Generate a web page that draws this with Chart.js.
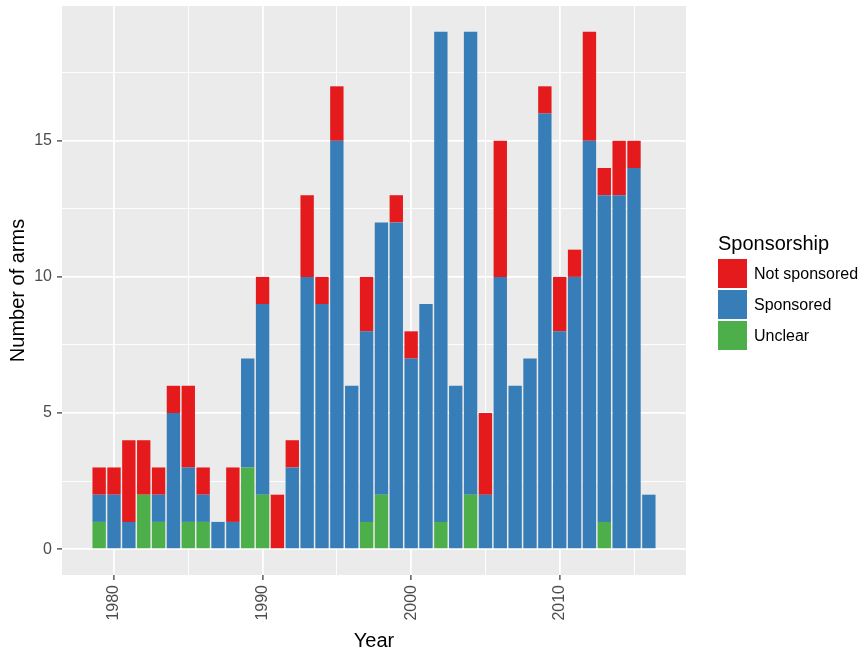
<!DOCTYPE html>
<html>
<head>
<meta charset="utf-8">
<script src="https://cdn.jsdelivr.net/npm/chart.js@4/dist/chart.umd.min.js"></script>
<style>
  body { margin: 0; background: #fff; font-family: "Liberation Sans", Arial, sans-serif; }
  #wrap { position: relative; width: 867px; height: 657px; }
  #legend { position: absolute; left: 718px; top: 231px; color: #000; }
  .lg-title { font-size: 20px; line-height: 24px; margin-bottom: 3px; }
  .lg-item { display: flex; align-items: center; height: 31px; }
  .lg-key { width: 29px; height: 29px; margin-right: 7px; }
  .lg-label { font-size: 16px; }
</style>
</head>
<body>
<div id="wrap">
  <canvas id="arms-chart" width="867" height="657"></canvas>
  <div id="legend"></div>
</div>
<script>
const years = [1979, 1980, 1981, 1982, 1983, 1984, 1985, 1986, 1987, 1988,
  1989, 1990, 1991, 1992, 1993, 1994, 1995, 1996, 1997, 1998,
  1999, 2000, 2001, 2002, 2003, 2004, 2005, 2006, 2007, 2008,
  2009, 2010, 2011, 2012, 2013, 2014, 2015, 2016];

const unclear = [1, 0, 0, 2, 1, 0, 1, 1, 0, 0,
  3, 2, 0, 0, 0, 0, 0, 0, 1, 2,
  0, 0, 0, 1, 0, 2, 0, 0, 0, 0,
  0, 0, 0, 0, 1, 0, 0, 0];

const sponsored = [1, 2, 1, 0, 1, 5, 2, 1, 1, 1,
  4, 7, 0, 3, 10, 9, 15, 6, 7, 10,
  12, 7, 9, 18, 6, 17, 2, 10, 6, 7,
  16, 8, 10, 15, 12, 13, 14, 2];

const notSponsored = [1, 1, 3, 2, 1, 1, 3, 1, 0, 2,
  0, 1, 2, 1, 3, 1, 2, 0, 2, 0,
  1, 1, 0, 0, 0, 0, 3, 5, 0, 0,
  1, 2, 1, 4, 1, 2, 1, 0];

const yTicks = [0, 2.5, 5, 7.5, 10, 12.5, 15, 17.5];
const xTicks = [1980, 1985, 1990, 1995, 2000, 2005, 2010, 2015];

const legendOrder = ["Not sponsored", "Sponsored", "Unclear"];
const seriesColors = {
  "Not sponsored": "#E41A1C",
  "Sponsored": "#377EB8",
  "Unclear": "#4DAF4A",
};

// zero counts are left out, like ggplot does
const toPoints = (arr) => years.map((yr, i) => ({ x: yr, y: arr[i] === 0 ? null : arr[i] }));

const panelBg = {
  id: "panelBg",
  beforeDraw(chart) {
    const { ctx, chartArea: a } = chart;
    ctx.save();
    ctx.fillStyle = "#EBEBEB";
    ctx.fillRect(a.left, a.top, a.right - a.left, a.bottom - a.top);
    ctx.restore();
  },
};

const isMajorY = (v) => v % 5 === 0;
const isMajorX = (v) => v % 10 === 0;

new Chart(document.getElementById("arms-chart"), {
  type: "bar",
  data: {
    datasets: [
      { label: "Unclear", data: toPoints(unclear), backgroundColor: seriesColors["Unclear"] },
      { label: "Sponsored", data: toPoints(sponsored), backgroundColor: seriesColors["Sponsored"] },
      { label: "Not sponsored", data: toPoints(notSponsored), backgroundColor: seriesColors["Not sponsored"] },
    ],
  },
  options: {
    responsive: false,
    animation: false,
    devicePixelRatio: 1,
    layout: { padding: { top: 6, right: 181, left: 0, bottom: 0 } },
    datasets: {
      bar: { categoryPercentage: 1, barPercentage: 0.9, borderWidth: 0 },
    },
    plugins: {
      legend: { display: false },
      tooltip: { enabled: false },
    },
    scales: {
      x: {
        type: "linear",
        stacked: true,
        offset: false,
        min: 1976.5,
        max: 2018.5,
        afterBuildTicks: (scale) => { scale.ticks = xTicks.map((v) => ({ value: v })); },
        afterFit: (scale) => {
          scale.height = 82;
          scale.paddingLeft = 0;
          scale.paddingRight = 0;
        },
        border: { display: false },
        grid: {
          offset: false,
          color: "#FFFFFF",
          lineWidth: (c) => (isMajorX(c.tick.value) ? 1.8 : 0.9),
          tickColor: (c) => (isMajorX(c.tick.value) ? "#333333" : "rgba(0,0,0,0)"),
          tickWidth: 1.2,
          tickLength: 5,
        },
        ticks: {
          autoSkip: false,
          minRotation: 90,
          maxRotation: 90,
          padding: 5,
          color: "#4D4D4D",
          font: { family: "Liberation Sans", size: 16 },
          callback: (v) => (isMajorX(v) ? String(v) : ""),
        },
        title: {
          display: true,
          text: "Year",
          color: "#000",
          font: { family: "Liberation Sans", size: 20 },
          padding: { top: 0, bottom: 4 },
        },
      },
      y: {
        stacked: true,
        min: -0.95,
        max: 19.95,
        afterBuildTicks: (scale) => { scale.ticks = yTicks.map((v) => ({ value: v })); },
        afterFit: (scale) => {
          scale.width = 62;
          scale.paddingTop = 0;
          scale.paddingBottom = 0;
        },
        border: { display: false },
        grid: {
          color: "#FFFFFF",
          lineWidth: (c) => (isMajorY(c.tick.value) ? 1.8 : 0.9),
          tickColor: (c) => (isMajorY(c.tick.value) ? "#333333" : "rgba(0,0,0,0)"),
          tickWidth: 1.2,
          tickLength: 5,
        },
        ticks: {
          padding: 5,
          color: "#4D4D4D",
          font: { family: "Liberation Sans", size: 16 },
          callback: (v) => (isMajorY(v) ? String(v) : ""),
        },
        title: {
          display: true,
          text: "Number of arms",
          color: "#000",
          font: { family: "Liberation Sans", size: 20 },
          padding: { top: 6, bottom: 0 },
        },
      },
    },
  },
  plugins: [panelBg],
});

// legend on the right, same order as ggplot
const legendEl = document.getElementById("legend");
let html = `<div class="lg-title">Sponsorship</div>`;
legendOrder.forEach((name) => {
  html += `<div class="lg-item"><span class="lg-key" style="background:${seriesColors[name]}"></span><span class="lg-label">${name}</span></div>`;
});
legendEl.innerHTML = html;
</script>
</body>
</html>
